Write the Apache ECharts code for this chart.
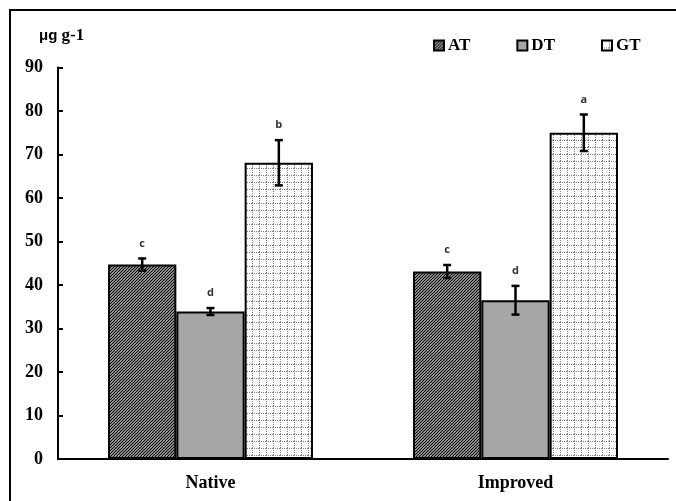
<!DOCTYPE html>
<html>
<head>
<meta charset="utf-8">
<script src="https://cdn.jsdelivr.net/npm/echarts@6/dist/echarts.min.js"></script>
<style>html,body{margin:0;padding:0;background:#fff;}#c{width:676px;height:501px;}</style>
</head>
<body>
<div id="c"></div>
<script>
const categories = ['Native', 'Improved'];
const seriesNames = ['AT', 'DT', 'GT'];
const atValues = [44.7, 43.1];
const dtValues = [33.9, 36.5];
const gtValues = [68.1, 75.0];
const atErrors = [1.4, 1.5];
const dtErrors = [0.8, 3.3];
const gtErrors = [5.2, 4.2];
const atLetters = ['c', 'c'];
const dtLetters = ['d', 'd'];
const gtLetters = ['b', 'a'];
const yTicks = [0, 10, 20, 30, 40, 50, 60, 70, 80, 90];

function hatchPattern() {
  const c = document.createElement('canvas');
  c.width = 3; c.height = 3;
  const g = c.getContext('2d');
  g.fillStyle = '#fff'; g.fillRect(0, 0, 3, 3);
  g.strokeStyle = '#000'; g.lineWidth = 1.3;
  g.beginPath();
  g.moveTo(-1, 4); g.lineTo(4, -1);
  g.moveTo(-1, 1); g.lineTo(1, -1);
  g.moveTo(2, 4); g.lineTo(4, 2);
  g.stroke();
  return c;
}
function gridPattern() {
  const c = document.createElement('canvas');
  c.width = 7; c.height = 7;
  const g = c.getContext('2d');
  g.fillStyle = '#fff'; g.fillRect(0, 0, 7, 7);
  g.fillStyle = '#808080';
  for (let y = 0; y < 7; y += 2) g.fillRect(0, y, 1, 1);
  for (let x = 0; x < 7; x += 2) g.fillRect(x, 0, 1, 1);
  return c;
}

const colors = [
  { image: hatchPattern(), repeat: 'repeat' },
  '#a6a6a6',
  { image: gridPattern(), repeat: 'repeat' }
];
const values = [atValues, dtValues, gtValues];
const errors = [atErrors, dtErrors, gtErrors];
const letters = [atLetters, dtLetters, gtLetters];
const BAR_FRAC = 0.224;

const errData = [];
const errLetters = [];
for (let s = 0; s < 3; s++) {
  for (let i = 0; i < categories.length; i++) {
    errData.push([i, s, values[s][i], errors[s][i]]);
    errLetters.push(letters[s][i]);
  }
}

const serif = '"Liberation Serif", "Times New Roman", serif';

const barSeries = seriesNames.map((n, s) => ({
  name: n,
  type: 'bar',
  data: values[s],
  barWidth: (BAR_FRAC * 100) + '%',
  barGap: '0%',
  itemStyle: { color: colors[s], borderColor: '#000', borderWidth: 2 },
  emphasis: { disabled: true }
}));

const chart = echarts.init(document.getElementById('c'), null, { renderer: 'canvas' });
chart.setOption({
  animation: false,
  backgroundColor: '#fff',
  title: {
    text: '{a|μg}{b| g-1}',
    left: 34, top: 22,
    textStyle: {
      rich: {
        a: { fontFamily: '"Liberation Sans", Arial, sans-serif', fontWeight: 'bold', fontSize: 15, color: '#000' },
        b: { fontFamily: serif, fontWeight: 'bold', fontSize: 17, color: '#000' }
      }
    }
  },
  legend: {
    data: seriesNames,
    left: 433, top: 37,
    padding: 0,
    itemWidth: 10, itemHeight: 10,
    itemGap: 46,
    icon: 'rect',
    itemStyle: { borderColor: '#000', borderWidth: 2 },
    textStyle: { fontFamily: serif, fontWeight: 'bold', fontSize: 17, color: '#000', padding: [0, 0, 0, -1] }
  },
  graphic: [{
    type: 'polyline',
    shape: { points: [[10, 510], [10, 10], [690, 10]] },
    style: { stroke: '#000', lineWidth: 2, fill: null },
    silent: true
  }],
  grid: { left: 58, right: 8, top: 67.5, bottom: 42 },
  xAxis: {
    type: 'category',
    data: categories,
    axisLine: { lineStyle: { color: '#000', width: 2 } },
    axisTick: { inside: true, length: 6, lineStyle: { color: '#000', width: 2 } },
    axisLabel: { fontFamily: serif, fontWeight: 'bold', fontSize: 18, color: '#000', margin: 15 }
  },
  yAxis: {
    type: 'value',
    min: yTicks[0], max: yTicks[yTicks.length - 1], interval: 10,
    splitLine: { show: false },
    axisLine: { show: true, lineStyle: { color: '#000', width: 2 } },
    axisTick: { show: true, inside: true, length: 5, lineStyle: { color: '#000', width: 2 } },
    axisLabel: { fontFamily: serif, fontWeight: 'bold', fontSize: 18, color: '#000', margin: 15 }
  },
  series: barSeries.concat([{
    type: 'custom',
    name: 'err',
    data: errData,
    clip: false,
    silent: true,
    z: 10,
    renderItem: function (params, api) {
      const cat = api.value(0), s = api.value(1), m = api.value(2), e = api.value(3);
      const band = api.size([1, 0])[0];
      const bw = band * BAR_FRAC;
      const x = api.coord([cat, 0])[0] + (s - 1) * bw;
      const yTop = api.coord([cat, m + e])[1];
      const yBot = api.coord([cat, m - e])[1];
      const cap = 4;
      const st = { stroke: '#000', lineWidth: 2.5 };
      return {
        type: 'group',
        children: [
          { type: 'line', shape: { x1: x, y1: yTop, x2: x, y2: yBot }, style: st },
          { type: 'line', shape: { x1: x - cap, y1: yTop, x2: x + cap, y2: yTop }, style: st },
          { type: 'line', shape: { x1: x - cap, y1: yBot, x2: x + cap, y2: yBot }, style: st },
          { type: 'text', x: x, y: yTop - 15, style: {
              text: errLetters[params.dataIndex], align: 'center', verticalAlign: 'middle',
              fontFamily: '"Open Sans", "Liberation Sans", sans-serif', fontWeight: 'bold', fontSize: 11, fill: '#333' } }
        ]
      };
    }
  }])
});
</script>
</body>
</html>
